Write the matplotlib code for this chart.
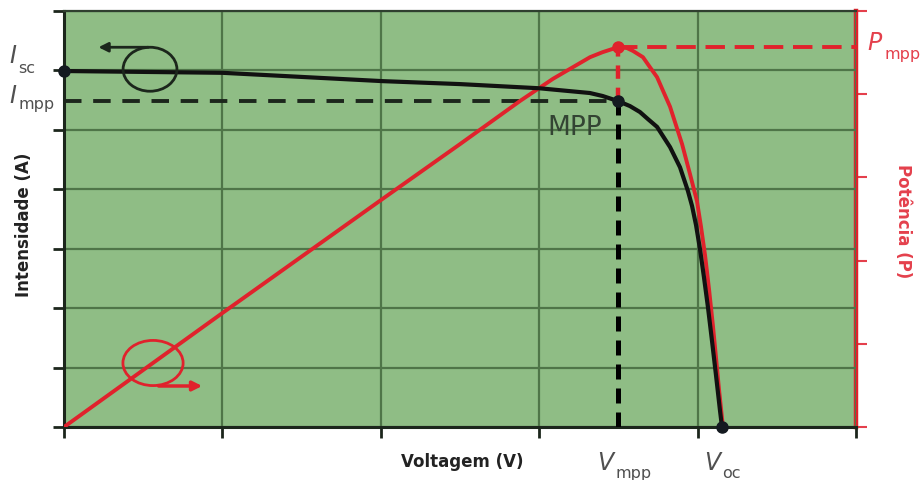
import numpy as np
import matplotlib
matplotlib.use("Agg")
import matplotlib.pyplot as plt
from matplotlib.patches import Ellipse

# I-V curve (current, left axis)
volt_i = [0.0, 1.0, 2.01, 2.5, 3.0, 3.2, 3.32, 3.40, 3.497, 3.573, 3.636, 3.687, 3.744,
          3.826, 3.889, 3.939, 3.965, 3.990, 4.015, 4.040, 4.066, 4.091, 4.116, 4.141, 4.154]
current = [5.99, 5.96, 5.82, 5.77, 5.70, 5.65, 5.62, 5.57, 5.485, 5.40, 5.30, 5.18, 5.05,
           4.71, 4.37, 3.971, 3.719, 3.399, 2.995, 2.524, 2.002, 1.447, 0.875, 0.286, 0.0]

# P-V curve (power, right axis, relative)
volt_p = [0.0, 1.0, 2.01, 2.5, 2.88, 3.087, 3.321, 3.40, 3.497, 3.554, 3.592, 3.655, 3.699,
          3.744, 3.782, 3.826, 3.902, 3.952, 3.996, 4.021, 4.047, 4.072, 4.097,
          4.116, 4.135, 4.160]
power = [0.0, 0.274, 0.548, 0.680, 0.784, 0.837, 0.889, 0.901, 0.913, 0.911, 0.904, 0.889, 0.865,
         0.841, 0.808, 0.770, 0.680, 0.608, 0.543, 0.483, 0.413, 0.332, 0.243,
         0.168, 0.091, 0.0]

v_mpp, i_mpp, p_mpp = 3.497, 5.485, 0.913
v_oc, i_sc = 4.154, 5.99

x_ticks = [0, 1, 2, 3, 4, 5]
y_ticks = [0, 1, 2, 3, 4, 5, 6, 7]
p_ticks = [0, 0.2, 0.4, 0.6, 0.8, 1.0]

green = '#8fbd85'
grid_c = '#4f7548'
dark = '#1c261c'
red = '#e0222c'
red_txt = '#e4404c'
gray = '#505050'

W, H = 922, 481
fig = plt.figure(figsize=(W / 100, H / 100), dpi=100)
ax = fig.add_axes([64 / W, 1 - 428 / H, (856 - 64) / W, (428 - 12) / H])
ax.set_xlim(0, 5)
ax.set_ylim(0, 7)
ax.set_xticks(x_ticks)
ax.set_yticks(y_ticks)
ax.set_xticklabels([])
ax.set_yticklabels([])
ax.grid(True, color=grid_c, linewidth=1.6)
ax.tick_params(axis='both', direction='out', length=8, width=2, color=dark)
for s in ['left', 'bottom']:
    ax.spines[s].set_color(dark)
    ax.spines[s].set_linewidth(2.2)
ax.spines['top'].set_color('#2f3f2f')
ax.spines['top'].set_linewidth(1.6)
ax.spines['right'].set_visible(False)

ax2 = ax.twinx()
ax2.set_ylim(0, 1)
ax2.set_yticks(p_ticks)
ax2.set_yticklabels([])
ax2.spines['right'].set_color(red)
ax2.spines['right'].set_linewidth(3.2)
for s in ['left', 'top', 'bottom']:
    ax2.spines[s].set_visible(False)
ax2.tick_params(axis='y', direction='out', length=8, width=1.5, color=red_txt)
ax2.patch.set_visible(True)
ax2.patch.set_facecolor(green)

# grid axes drawn on top of the green background of ax2
ax.set_zorder(ax2.get_zorder() + 1)
ax.patch.set_visible(False)

# dashed guides
ax.plot([0, v_mpp], [i_mpp, i_mpp], color=dark, lw=2.8, dashes=(4.5, 3), zorder=3)
ax.plot([v_mpp, v_mpp], [0, i_mpp], color='black', lw=3.6, dashes=(3, 1.8), zorder=3)
ax.plot([v_mpp, 5], [p_mpp * 7, p_mpp * 7], color=red, lw=2.8, dashes=(5, 2.5), zorder=3)
ax.plot([v_mpp, v_mpp], [i_mpp, p_mpp * 7], color=red, lw=3.2, dashes=(3, 2), zorder=3)

# curves
ax.plot(volt_p, [p * 7 for p in power], color=red, lw=2.8, zorder=4, solid_joinstyle='round')
ax.plot([v_mpp], [p_mpp * 7], 'o', color=red, ms=8, zorder=6)
ax.plot(volt_i, current, color='#111111', lw=3, zorder=5, solid_joinstyle='round')
ax.plot([0, v_mpp, v_oc], [i_sc, i_mpp, 0], 'o', color='#141a20', ms=8, zorder=6, clip_on=False)

# circled arrows
ax.add_patch(Ellipse((0.543, 6.02), 0.34, 0.74, fill=False, ec=dark, lw=2, zorder=6))
ax.annotate('', xy=(0.2, 6.39), xytext=(0.55, 6.39),
            arrowprops=dict(arrowstyle='-|>', color=dark, lw=2, mutation_scale=14), zorder=6)
ax.add_patch(Ellipse((0.562, 1.077), 0.38, 0.76, fill=False, ec=red, lw=2, zorder=6))
ax.annotate('', xy=(0.89, 0.69), xytext=(0.58, 0.69),
            arrowprops=dict(arrowstyle='-|>', color=red, lw=2.5, mutation_scale=14), zorder=6)

fig.text(575 / W, 1 - 128 / H, 'MPP', color='#334433', fontsize=19, ha='center', va='center')


def sym(x, y, main, sub, color, dx, dy):
    # letter with subscript, positions in pixels (baseline)
    fig.text(x / W, 1 - y / H, main, color=color, fontsize=17, style='italic',
             ha='left', va='baseline')
    fig.text((x + dx) / W, 1 - (y + dy) / H, sub, color=color, fontsize=11.5,
             ha='left', va='baseline')


sym(9, 63, 'I', 'sc', gray, 9, 10)
sym(9, 103, 'I', 'mpp', gray, 9, 6)
sym(867, 50, 'P', 'mpp', red_txt, 17, 9)
sym(597, 470, 'V', 'mpp', gray, 18, 8)
sym(704, 470, 'V', 'oc', gray, 18, 8)

fig.text(462 / W, 1 - 462 / H, 'Voltagem (V)', color='#222222', fontsize=12, fontweight='bold',
         ha='center', va='center')
fig.text(24 / W, 1 - 225 / H, 'Intensidade (A)', color='#222222', fontsize=12, fontweight='bold',
         ha='center', va='center', rotation=90)
fig.text(903 / W, 1 - 221 / H, 'Potência (P)', color=red_txt, fontsize=12, fontweight='bold',
         ha='center', va='center', rotation=-90)

fig.savefig('out.png', dpi=100)
